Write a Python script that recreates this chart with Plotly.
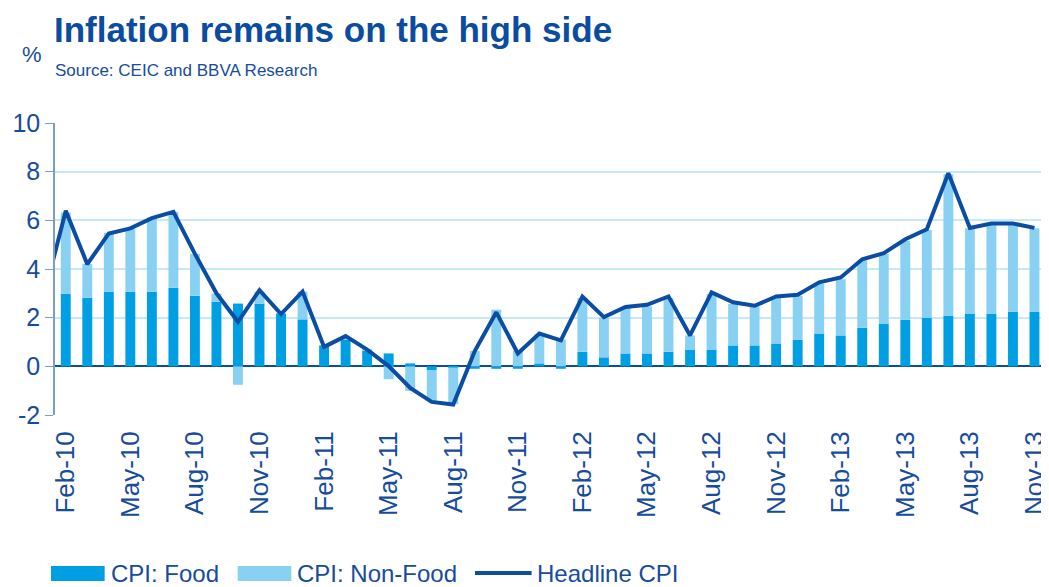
import plotly.graph_objects as go

# monthly data, Jan-10 .. Nov-13 (Jan-10 only shows as the clipped start of the line)
months = ["Jan-10", "Feb-10", "Mar-10", "Apr-10", "May-10", "Jun-10", "Jul-10", "Aug-10",
          "Sep-10", "Oct-10", "Nov-10", "Dec-10", "Jan-11", "Feb-11", "Mar-11", "Apr-11",
          "May-11", "Jun-11", "Jul-11", "Aug-11", "Sep-11", "Oct-11", "Nov-11", "Dec-11",
          "Jan-12", "Feb-12", "Mar-12", "Apr-12", "May-12", "Jun-12", "Jul-12", "Aug-12",
          "Sep-12", "Oct-12", "Nov-12", "Dec-12", "Jan-13", "Feb-13", "Mar-13", "Apr-13",
          "May-13", "Jun-13", "Jul-13", "Aug-13", "Sep-13", "Oct-13", "Nov-13"]

cpi_food = [None, 2.98, 2.82, 3.07, 3.07, 3.07, 3.23, 2.90,
            2.66, 2.58, 2.58, 2.17, 1.93, 0.86, 1.10, 0.63,
            0.53, 0.12, -0.15, -0.05, -0.10, -0.10, -0.10, 0.12,
            -0.10, 0.60, 0.37, 0.53, 0.53, 0.60, 0.69, 0.69,
            0.86, 0.86, 0.94, 1.10, 1.35, 1.27, 1.59, 1.76,
            1.92, 2.00, 2.08, 2.17, 2.17, 2.25, 2.25]

cpi_nonfood = [None, 3.34, 1.39, 2.42, 2.60, 3.05, 3.12, 1.72,
               0.33, -0.76, 0.49, 0.00, 1.14, 0.00, 0.10, 0.06,
               -0.53, -1.01, -1.27, -1.50, 0.63, 2.33, 0.63, 1.19,
               1.10, 2.21, 1.62, 1.87, 1.94, 2.21, 0.58, 2.29,
               1.71, 1.61, 1.87, 1.80, 2.04, 2.31, 2.76, 2.86,
               3.24, 3.60, 5.81, 3.50, 3.63, 3.55, 3.42]

headline = [2.94, 6.39, 4.20, 5.46, 5.67, 6.09, 6.35, 4.62,
            3.00, 1.83, 3.13, 2.15, 3.07, 0.80, 1.24, 0.69,
            0.01, -0.89, -1.46, -1.57, 0.63, 2.22, 0.53, 1.35,
            1.07, 2.87, 2.02, 2.44, 2.53, 2.87, 1.27, 3.04,
            2.63, 2.49, 2.87, 2.94, 3.45, 3.65, 4.40, 4.65,
            5.22, 5.63, 7.94, 5.69, 5.87, 5.87, 5.69]

tick_labels = months[1::3]
y_ticks = [-2, 0, 2, 4, 6, 8, 10]

FOOD = "#009FE3"
NONFOOD = "#89D1F3"
LINE = "#0B4DA2"
TEXT = "#174C9C"
GRID = "#C6E9F8"
FONT = "Liberation Sans, Arial, sans-serif"

# the page body has an 8px margin, so the figure is drawn 8px smaller
OFF = 8
W, H = 1049 - OFF, 587 - OFF
# plot area in reference pixels: x 55..1049, y 123..415
L, R, T, B = 55, 1049, 123, 415


def px(x):
    return (x - L) / (R - L)


def py(y):
    return (B - y) / (B - T)


fig = go.Figure()
fig.add_trace(go.Bar(x=months, y=cpi_food, name="CPI: Food", marker_color=FOOD,
                     marker_line_width=0, showlegend=False))
fig.add_trace(go.Bar(x=months, y=cpi_nonfood, name="CPI: Non-Food", marker_color=NONFOOD,
                     marker_line_width=0, showlegend=False))
fig.add_trace(go.Scatter(x=months, y=headline, name="Headline CPI", mode="lines",
                         line=dict(color=LINE, width=4), showlegend=False))

first = months.index(tick_labels[0])
last = len(months) - 1

fig.update_layout(
    width=W, height=H, autosize=False,
    margin=dict(l=L - OFF, r=0, t=T - OFF, b=587 - B),
    plot_bgcolor="white", paper_bgcolor="white",
    barmode="relative", bargap=0.54,
    font=dict(family=FONT, color=TEXT),
    xaxis=dict(
        type="category", range=[first - 0.5, last + 0.35],
        tickmode="array", tickvals=tick_labels, ticktext=tick_labels,
        tickangle=-90, ticks="", showgrid=False, showline=False, zeroline=False,
        ticklabelstandoff=10,
        tickfont=dict(size=26, color=TEXT),
    ),
    xaxis2=dict(
        overlaying="x", anchor="free", position=2 / 12, type="linear",
        range=[first - 0.5, last + 0.35],
        tickmode="array", tickvals=[months.index(m) - 0.5 for m in tick_labels],
        ticks="outside", ticklen=9, tickwidth=1.2, tickcolor=LINE,
        showticklabels=False, showgrid=False, showline=False, zeroline=False,
    ),
    yaxis=dict(
        range=[-2, 10], tickmode="array", tickvals=y_ticks,
        ticktext=[str(v) for v in y_ticks],
        showgrid=True, gridcolor=GRID, gridwidth=1.5,
        zeroline=True, zerolinecolor=LINE, zerolinewidth=1.5,
        showline=True, linecolor="#7F9CC6", linewidth=1.5,
        ticks="outside", ticklen=8, tickcolor="#7F9CC6",
        tickfont=dict(size=25, color=TEXT),
    ),
)

# header texts
fig.add_annotation(text="<b>Inflation remains on the high side</b>", xref="paper", yref="paper",
                   x=px(52), y=py(29), xanchor="left", yanchor="middle", showarrow=False,
                   font=dict(size=35, color="#0A4CA0"))
fig.add_annotation(text="%", xref="paper", yref="paper", x=px(20), y=py(54),
                   xanchor="left", yanchor="middle", showarrow=False,
                   font=dict(size=22, color=TEXT))
fig.add_annotation(text="Source: CEIC and BBVA Research", xref="paper", yref="paper",
                   x=px(53), y=py(70), xanchor="left", yanchor="middle", showarrow=False,
                   font=dict(size=17, color=TEXT))

# legend drawn by hand to get the wide swatches
ly = 573
fig.add_shape(type="rect", xref="paper", yref="paper", x0=px(51), x1=px(105),
              y0=py(ly + 8), y1=py(ly - 7), fillcolor=FOOD, line_width=0)
fig.add_shape(type="rect", xref="paper", yref="paper", x0=px(239), x1=px(293),
              y0=py(ly + 8), y1=py(ly - 7), fillcolor=NONFOOD, line_width=0)
fig.add_shape(type="line", xref="paper", yref="paper", x0=px(478), x1=px(535),
              y0=py(ly), y1=py(ly), line=dict(color=LINE, width=4))
for label, x in [("CPI: Food", 109), ("CPI: Non-Food", 297), ("Headline CPI", 538)]:
    fig.add_annotation(text=label, xref="paper", yref="paper", x=px(x), y=py(ly),
                       xanchor="left", yanchor="middle", showarrow=False,
                       font=dict(size=24, color=TEXT))

fig.write_html("out.html")
